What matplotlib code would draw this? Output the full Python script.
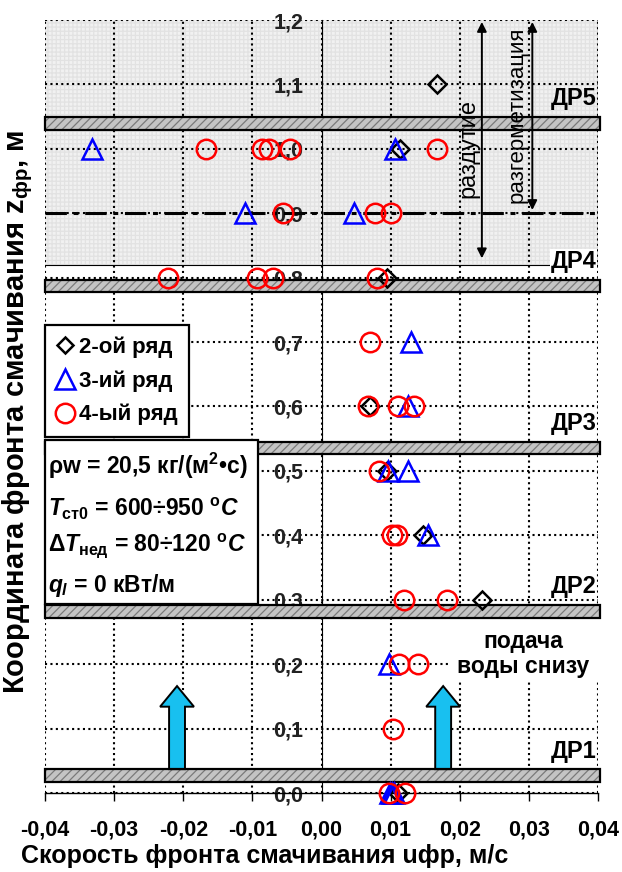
import matplotlib.pyplot as plt
from matplotlib.patches import Rectangle, FancyArrow
from matplotlib.lines import Line2D

plt.rcParams['font.family'] = ['Liberation Sans', 'DejaVu Sans']
plt.rcParams['font.weight'] = 'bold'
plt.rcParams['mathtext.fontset'] = 'custom'
plt.rcParams['mathtext.rm'] = 'Liberation Sans:bold'
plt.rcParams['mathtext.it'] = 'Liberation Sans:bold:italic'
plt.rcParams['mathtext.bf'] = 'Liberation Sans:bold'
plt.rcParams['hatch.linewidth'] = 0.9

# данные: скорость фронта (м/с) и координата (м)
ряд2_u = [0.0167, 0.0114, 0.0095, 0.0070, 0.0095, 0.0147, 0.0232, 0.0110]
ряд2_z = [1.1, 1.0, 0.8, 0.6, 0.5, 0.4, 0.3, 0.0]

ряд3_u = [-0.0332, 0.0106, -0.0111, 0.0047, 0.0130, 0.0125, 0.0096, 0.0125,
          0.0154, 0.0098, 0.0099, 0.0102, 0.0105]
ряд3_z = [1.0, 1.0, 0.9, 0.9, 0.7, 0.6, 0.5, 0.5, 0.4, 0.2, 0.0, 0.0, 0.0]

ряд4_u = [-0.0167, -0.0086, -0.0076, -0.0046, 0.0167, -0.0056, 0.0077, 0.0101,
          -0.0222, -0.0094, -0.0070, 0.0080, 0.0070, 0.0067, 0.0111, 0.0134,
          0.0083, 0.0102, 0.0109, 0.0119, 0.0182, 0.0112, 0.0140, 0.0103,
          0.0098, 0.0121]
ряд4_z = [1.0, 1.0, 1.0, 1.0, 1.0, 0.9, 0.9, 0.9, 0.8, 0.8, 0.8, 0.8, 0.7,
          0.6, 0.6, 0.6, 0.5, 0.4, 0.4, 0.3, 0.3, 0.2, 0.2, 0.1, 0.0, 0.0]

# дистанционирующие решетки (низ, верх), м
решетки = ['ДР1', 'ДР2', 'ДР3', 'ДР4', 'ДР5']
решетки_низ = [0.017, 0.272, 0.526, 0.777, 1.030]
решетки_верх = [0.037, 0.292, 0.545, 0.797, 1.050]

x_ticks = [-0.04, -0.03, -0.02, -0.01, 0.0, 0.01, 0.02, 0.03, 0.04]
y_ticks = [0.0, 0.1, 0.2, 0.3, 0.4, 0.5, 0.6, 0.7, 0.8, 0.9, 1.0, 1.1, 1.2]


def fmt(v, n):
    return f'{v:.{n}f}'.replace('.', ',')


fig = plt.figure(figsize=(6.22, 8.72), dpi=100)
ax = fig.add_axes([45 / 622, 79 / 872, 553 / 622, 773 / 872])
ax.set_xlim(-0.04, 0.04)
ax.set_ylim(0, 1.2)

for s in ['top', 'right']:
    ax.spines[s].set_visible(False)
ax.spines['left'].set_position(('data', 0))
ax.spines['left'].set_linewidth(0.8)
ax.spines['bottom'].set_linewidth(1.0)

# зона раздутия (серый фон)
ax.add_patch(Rectangle((-0.04, 0.82), 0.08, 0.38, facecolor='#f1f1f1',
                       edgecolor='#e2e2e2', hatch='++++', lw=0, zorder=0.5))
ax.plot([-0.04, 0.04], [0.82, 0.82], color='black', lw=0.8, zorder=1)
ax.plot([0.04, 0.04], [0.82, 1.2], color='black', lw=0.8, zorder=1)

ax.set_xticks(x_ticks)
ax.set_yticks(y_ticks)
ax.set_xticklabels([fmt(v, 2) for v in x_ticks])
ax.set_yticklabels([fmt(v, 1) for v in y_ticks])
ax.tick_params(axis='y', length=0, pad=13, labelsize=15.5, labelcolor='#222222')
ax.tick_params(axis='x', direction='out', length=6, width=1, pad=13, labelsize=15.5)
ax.grid(True, color='black', lw=1.5, linestyle=(0, (1, 1.6)))

# решетки
for name, lo, hi in zip(решетки, решетки_низ, решетки_верх):
    ax.add_patch(Rectangle((-0.04, lo), 0.0803, hi - lo, facecolor='#c4c4c4',
                           edgecolor='#7a7a7a', hatch='////', lw=0,
                           zorder=3, clip_on=False))
    ax.add_patch(Rectangle((-0.04, lo), 0.0803, hi - lo, facecolor='none',
                           edgecolor='black', lw=1.6, zorder=3.1, clip_on=False))
    bb = dict(facecolor='white', edgecolor='none', pad=0.5) if name == 'ДР4' else None
    ax.text(0.0398, hi + 0.01, name, ha='right', va='bottom', fontsize=17,
            zorder=3.2, bbox=bb)

# граница разгерметизации
ax.plot([-0.04, 0.04], [0.9, 0.9], color='black', lw=2.2,
        linestyle=(0, (7, 2.2, 1.6, 2.2)), zorder=2)

# стрелки зон
ax.annotate('', xy=(0.0232, 0.83), xytext=(0.0232, 1.197),
            arrowprops=dict(arrowstyle='<|-|>', color='black', lw=1.4,
                            mutation_scale=14, shrinkA=0, shrinkB=0), zorder=3)
ax.annotate('', xy=(0.0305, 0.905), xytext=(0.0305, 1.197),
            arrowprops=dict(arrowstyle='<|-|>', color='black', lw=1.4,
                            mutation_scale=14, shrinkA=0, shrinkB=0), zorder=3)
ax.text(0.0213, 1.0, 'раздутие', rotation=90, ha='center', va='center',
        fontsize=17, fontweight='normal', zorder=3)
ax.text(0.0283, 1.053, 'разгерметизация', rotation=90, ha='center', va='center',
        fontsize=16, fontweight='normal', zorder=3)

# подача воды
ax.add_patch(Rectangle((0.0185, 0.172), 0.0215, 0.1, facecolor='white',
                       edgecolor='none', zorder=2.5))
ax.text(0.0292, 0.216, 'подача\nводы снизу', ha='center', va='center',
        fontsize=16.5, linespacing=1.1, zorder=3)
for xa in [-0.0209, 0.0176]:
    ax.add_patch(FancyArrow(xa, 0.037, 0, 0.129, width=0.0023,
                            head_width=0.0049, head_length=0.032,
                            length_includes_head=True, facecolor='#18c0f0',
                            edgecolor='black', lw=1.4, zorder=3))

# точки
ax.plot(ряд2_u, ряд2_z, 'D', ms=9, mfc='none', mec='black', mew=1.8,
        zorder=5, clip_on=False)
ax.plot(ряд3_u, ряд3_z, '^', ms=15, mfc='none', mec='#0000ff', mew=1.8,
        zorder=5, clip_on=False)
ax.plot(ряд4_u, ряд4_z, 'o', ms=14, mfc='none', mec='#ff0000', mew=1.8,
        zorder=5, clip_on=False)

# легенда
handles = [
    Line2D([], [], ls='none', marker='D', ms=8, mfc='none', mec='black', mew=1.8),
    Line2D([], [], ls='none', marker='^', ms=14, mfc='none', mec='#0000ff', mew=1.8),
    Line2D([], [], ls='none', marker='o', ms=14, mfc='none', mec='#ff0000', mew=1.8),
]
leg = ax.legend(handles, ['2-ой ряд', '3-ий ряд', '4-ый ряд'],
                loc='upper left', bbox_to_anchor=(0.0, 0.605), borderaxespad=0,
                fancybox=False, framealpha=1, edgecolor='black',
                prop={'size': 16, 'weight': 'bold'}, handlelength=0.8,
                handletextpad=0.25, labelspacing=0.55, borderpad=0.5)
leg.get_frame().set_linewidth(1.6)
leg.set_zorder(6)

# параметры режима
ax.add_patch(Rectangle((0.0, 0.2445), 0.385, 0.2122, transform=ax.transAxes,
                       facecolor='white', edgecolor='black', lw=1.6,
                       zorder=6, clip_on=False))
строки = [r'ρw = 20,5 кг/(м$^{\mathrm{2}}$•с)',
          r'$\mathit{T}_{\mathrm{ст0}}$ = 600÷950 $^{\mathrm{o}}\mathit{C}$',
          r'Δ$\mathit{T}_{\mathrm{нед}}$ = 80÷120 $^{\mathrm{o}}\mathit{C}$',
          r'$\mathit{q}_{\mathit{l}}$ = 0 кВт/м']
строки_y = [0.423, 0.368, 0.320, 0.268]
for t, yy in zip(строки, строки_y):
    ax.text(0.006, yy, t, transform=ax.transAxes, ha='left', va='center',
            fontsize=16.5, zorder=7)

fig.text(18 / 622, 0.528, r'Координата фронта смачивания $\mathbf{z}_{\mathrm{фр}}$, м',
         rotation=90, ha='center', va='center', fontsize=21)
fig.text(0.426, 0.018, 'Скорость фронта смачивания uфр, м/с',
         ha='center', va='center', fontsize=18)

fig.savefig('out.png', dpi=100)
